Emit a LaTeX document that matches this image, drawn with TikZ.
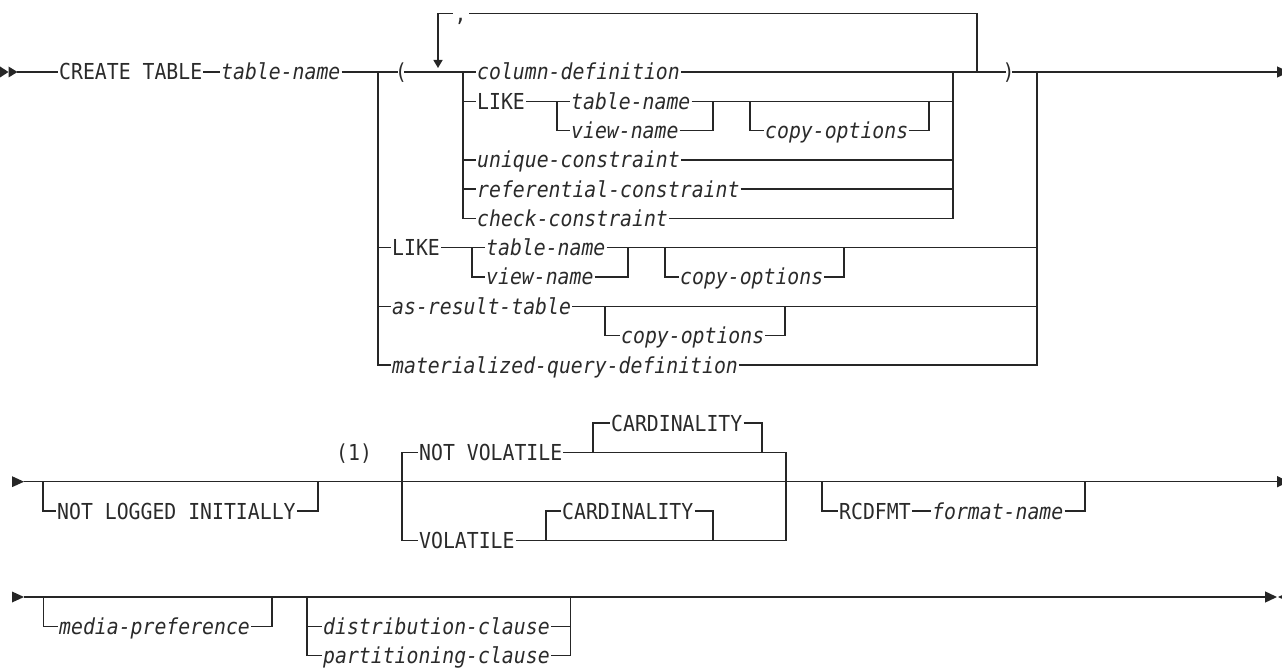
\documentclass[tikz,border=0pt]{standalone}
\usepackage{fontspec}
\usetikzlibrary{arrows.meta,positioning,calc}
\newfontfamily\railfont[FakeStretch=0.9]{DejaVu Sans Mono}
\definecolor{RRInk}{HTML}{262626}
\definecolor{RRText}{HTML}{2A2A2A}
\tikzset{
  rail/.style={draw=RRInk,line width=1.4pt},
  kw/.style={text=RRText,font=\railfont\fontsize{22}{24}\selectfont,
             inner xsep=1pt,inner ysep=0pt,text height=16pt,text depth=0pt,anchor=west},
  var/.style={kw,font=\railfont\itshape\fontsize{22}{24}\selectfont},
  paren/.style={kw,inner xsep=-3pt},
  endtip/.style={-{Triangle[length=12pt,width=11pt]}},
  looptip/.style={-{Triangle[length=8pt,width=9pt]}},
}
% filled start / stop marks of a syntax line
\newcommand\railstart[3]{\fill[RRInk] (#1,#2) ++(0,-5.5) -- ++(#3,5.5) -- ++(-#3,5.5) -- cycle;}
\newcommand\railstop[2]{\fill[RRInk] (#1,#2) -- ++(12,-5.5) -- ++(0,11) -- cycle;}

\begin{document}
\begin{tikzpicture}[x=1pt,y=-1pt]
  \useasboundingbox (0,0) rectangle (1282,668);

  % ---- line 1
  \railstart{0}{72}{8.5}
  \railstart{8.5}{72}{9}
  \coordinate (r1in) at (17,72);
  \coordinate (r1out) at (1289,72);
  \node[kw] (ct) at (58,72) {CREATE TABLE};
  \node[var] (tname) at (220,72) {table-name};
  \node[paren] (lpar) at (398,72) {(};
  \node[kw,inner xsep=2pt] (comma) at (452.5,13.5) {,};
  \node[var] (coldef) at (476,72) {column-definition};
  \node[kw] (ilike) at (476,101.3) {LIKE};
  \node[var] (itab) at (570,101.3) {table-name};
  \node[var] (iview) at (570,130.6) {view-name};
  \node[var] (icopy) at (764,130.6) {copy-options};
  \node[var] (uniq) at (476,160) {unique-constraint};
  \node[var] (refc) at (476,189.2) {referential-constraint};
  \node[var] (chkc) at (476,218.5) {check-constraint};
  \node[paren] (rpar) at (1005.5,72) {)};
  \node[kw] (olike) at (391,247.8) {LIKE};
  \node[var] (otab) at (485,247.8) {table-name};
  \node[var] (oview) at (485,277) {view-name};
  \node[var] (ocopy) at (679,277) {copy-options};
  \node[var] (asres) at (391,306.4) {as-result-table};
  \node[var] (acopy) at (620,335.7) {copy-options};
  \node[var] (mqd) at (391,365) {materialized-query-definition};

  \coordinate (oa) at (378,72);   \coordinate (ob) at (1037,72);
  \coordinate (la) at (438,68);   \coordinate (lb) at (977,72);
  \coordinate (ia) at (463,72);   \coordinate (ib) at (953,72);
  \coordinate (ita) at (557,101.3); \coordinate (itb) at (713,101.3);
  \coordinate (ica) at (750,101.3); \coordinate (icb) at (929,101.3);
  \coordinate (ota) at (472,247.8); \coordinate (otb) at (628,247.8);
  \coordinate (oca) at (665,247.8); \coordinate (ocb) at (844,247.8);
  \coordinate (aca) at (605,306.4); \coordinate (acb) at (785,306.4);

  \draw[rail] (r1in) -- (ct.west) (ct.east) -- (tname.west) (tname.east) -- (lpar.west);
  \draw[rail] (lpar.east) -- (coldef.west) (coldef.east) -- (rpar.west);
  \draw[rail,endtip] (rpar.east) -- (r1out);
  % repeat loop
  \draw[rail] (lb) |- (comma.east);
  \draw[rail,looptip] (comma.west) -| (la);
  % inner choice
  \draw[rail] (ia) |- (chkc.west);
  \draw[rail] (ia |- ilike) -- (ilike.west) (ia |- uniq) -- (uniq.west) (ia |- refc) -- (refc.west);
  \draw[rail] (chkc.east) -| (ib);
  \draw[rail] (uniq.east) -- (ib |- uniq) (refc.east) -- (ib |- refc);
  \draw[rail] (ilike.east) -- (itab.west) (itab.east) -- (ib |- ilike);
  \draw[rail] (ita) |- (iview.west) (iview.east) -| (itb);
  \draw[rail] (ica) |- (icopy.west) (icopy.east) -| (icb);
  % outer choice
  \draw[rail] (oa) |- (mqd.west);
  \draw[rail] (oa |- olike) -- (olike.west) (oa |- asres) -- (asres.west);
  \draw[rail] (mqd.east) -| (ob);
  \draw[rail] (olike.east) -- (otab.west) (otab.east) -- (ob |- otab);
  \draw[rail] (ota) |- (oview.west) (oview.east) -| (otb);
  \draw[rail] (oca) |- (ocopy.west) (ocopy.east) -| (ocb);
  \draw[rail] (asres.east) -- (ob |- asres);
  \draw[rail] (aca) |- (acopy.west) (acopy.east) -| (acb);

  % ---- line 2
  \railstart{12}{481.7}{12}
  \coordinate (r2in) at (24,481.7);
  \coordinate (r2out) at (1289,481.7);
  \node[kw] (nli) at (56,511) {NOT LOGGED INITIALLY};
  \node[kw] (fn1) at (335,452.4) {(1)};
  \node[kw] (nvol) at (418,452.4) {NOT VOLATILE};
  \node[kw] (card1) at (610,423.1) {CARDINALITY};
  \node[kw] (vol) at (418,540.3) {VOLATILE};
  \node[kw] (card2) at (561,511) {CARDINALITY};
  \node[kw] (rcd) at (838,511) {RCDFMT};
  \node[var] (fmt) at (931,511) {format-name};

  \coordinate (nla) at (43,481.7);   \coordinate (nlb) at (318,481.7);
  \coordinate (va) at (402,481.7);   \coordinate (vb) at (786,481.7);
  \coordinate (c1a) at (593,452.4);  \coordinate (c1b) at (762,452.4);
  \coordinate (c2a) at (546,540.3);  \coordinate (c2b) at (713,540.3);
  \coordinate (rca) at (822,481.7);  \coordinate (rcb) at (1085,481.7);

  \draw[rail,endtip] (r2in) -- (r2out);
  \draw[rail] (nla) |- (nli.west) (nli.east) -| (nlb);
  \draw[rail] (nvol.west) -| (va |- vol) -- (vol.west);
  \draw[rail] (nvol.east) -| (vb |- vol) -- (vol.east);
  \draw[rail] (c1a) |- (card1.west) (card1.east) -| (c1b);
  \draw[rail] (c2a) |- (card2.west) (card2.east) -| (c2b);
  \draw[rail] (rca) |- (rcd.west) (rcd.east) -- (fmt.west) (fmt.east) -| (rcb);

  % ---- line 3
  \railstart{12}{597}{12}
  \coordinate (r3in) at (24,597);
  \coordinate (r3out) at (1277,597);
  \node[var] (media) at (58,626.2) {media-preference};
  \node[var] (dist) at (322,626.2) {distribution-clause};
  \node[var] (part) at (322,655.3) {partitioning-clause};

  \coordinate (ma) at (43.5,597);  \coordinate (mb) at (272,597);
  \coordinate (da) at (307,597);   \coordinate (db) at (570.5,597);

  \draw[rail,endtip] (r3in) -- (r3out);
  \railstop{1278}{597}
  \draw[rail] (ma) |- (media.west) (media.east) -| (mb);
  \draw[rail] (da) |- (part.west) (da |- dist) -- (dist.west);
  \draw[rail] (part.east) -| (db) (dist.east) -- (db |- dist);
\end{tikzpicture}
\end{document}
